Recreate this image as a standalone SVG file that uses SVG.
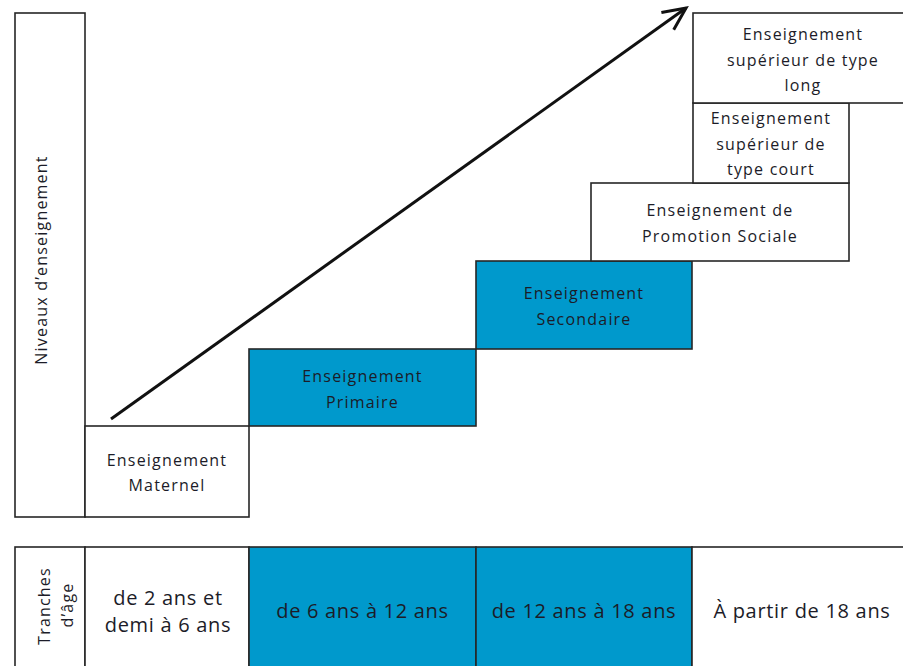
<svg xmlns="http://www.w3.org/2000/svg" width="903" height="666" viewBox="0 0 903 666">
<style>
  .box { fill: #ffffff; stroke: #262626; stroke-width: 1.6; }
  .blue { fill: #0099cc; stroke: #262626; stroke-width: 1.6; }
  .t { font-family: "Open Sans", "Liberation Sans", sans-serif; font-size: 16px; font-weight: 500; letter-spacing: 1.2px; fill: #1c1c28; text-anchor: middle; }
  .b { font-family: "Open Sans", "Liberation Sans", sans-serif; font-size: 20px; font-weight: 500; letter-spacing: 0.7px; fill: #1c1c28; text-anchor: middle; }
  .arrow { stroke: #111; stroke-width: 3; fill: none; }
</style>
<defs>
  <marker id="ah" viewBox="-26 -13 29 26" refX="0" refY="0" markerWidth="29" markerHeight="26" orient="auto" markerUnits="userSpaceOnUse">
    <path d="M-22.7,-10.6 L0,0 L-22.7,10.6" fill="none" stroke="#111" stroke-width="3" stroke-linejoin="miter"/>
  </marker>
</defs>
<rect width="903" height="666" fill="#ffffff"/>

<g id="axis-niveaux">
  <rect class="box" x="15" y="13" width="70" height="504"/>
  <text class="t" transform="translate(47,260) rotate(-90)">Niveaux d’enseignement</text>
</g>

<g id="maternel">
  <rect class="box" x="85" y="426" width="164" height="91"/>
  <text class="t" x="167" y="466">Enseignement</text>
  <text class="t" x="167" y="491">Maternel</text>
</g>

<g id="primaire">
  <rect class="blue" x="249" y="349" width="227" height="77"/>
  <text class="t" x="362.5" y="382">Enseignement</text>
  <text class="t" x="362.5" y="408">Primaire</text>
</g>

<g id="secondaire">
  <rect class="blue" x="476" y="261" width="216" height="88"/>
  <text class="t" x="584" y="299">Enseignement</text>
  <text class="t" x="584" y="325">Secondaire</text>
</g>

<g id="promotion-sociale">
  <rect class="box" x="591" y="183" width="258" height="78"/>
  <text class="t" x="720" y="216">Enseignement de</text>
  <text class="t" x="720" y="242">Promotion Sociale</text>
</g>

<g id="superieur-court">
  <rect class="box" x="693" y="103" width="156" height="80"/>
  <text class="t" x="771" y="124">Enseignement</text>
  <text class="t" x="771" y="150">supérieur de</text>
  <text class="t" x="771" y="175">type court</text>
</g>

<g id="superieur-long">
  <rect class="box" x="693" y="13" width="230" height="90"/>
  <text class="t" x="803" y="40">Enseignement</text>
  <text class="t" x="803" y="66">supérieur de type</text>
  <text class="t" x="803" y="91">long</text>
</g>

<g id="connectors">
  <line class="arrow" x1="111" y1="419" x2="686" y2="8" marker-end="url(#ah)"/>
</g>

<g id="tranches-label">
  <rect class="box" x="15" y="547" width="70" height="130"/>
  <text class="t" transform="translate(50,606) rotate(-90)">Tranches</text>
  <text class="t" transform="translate(73,605) rotate(-90)">d’âge</text>
</g>

<g id="age-2-6">
  <rect class="box" x="85" y="547" width="164" height="130"/>
  <text class="b" x="168" y="605">de 2 ans et</text>
  <text class="b" x="168" y="632">demi à 6 ans</text>
</g>

<g id="age-6-12">
  <rect class="blue" x="249" y="547" width="227" height="130"/>
  <text class="b" x="362.5" y="618">de 6 ans à 12 ans</text>
</g>

<g id="age-12-18">
  <rect class="blue" x="476" y="547" width="216" height="130"/>
  <text class="b" x="584" y="618">de 12 ans à 18 ans</text>
</g>

<g id="age-18">
  <rect class="box" x="692" y="547" width="230" height="130"/>
  <text class="b" x="802" y="618">À partir de 18 ans</text>
</g>
</svg>
